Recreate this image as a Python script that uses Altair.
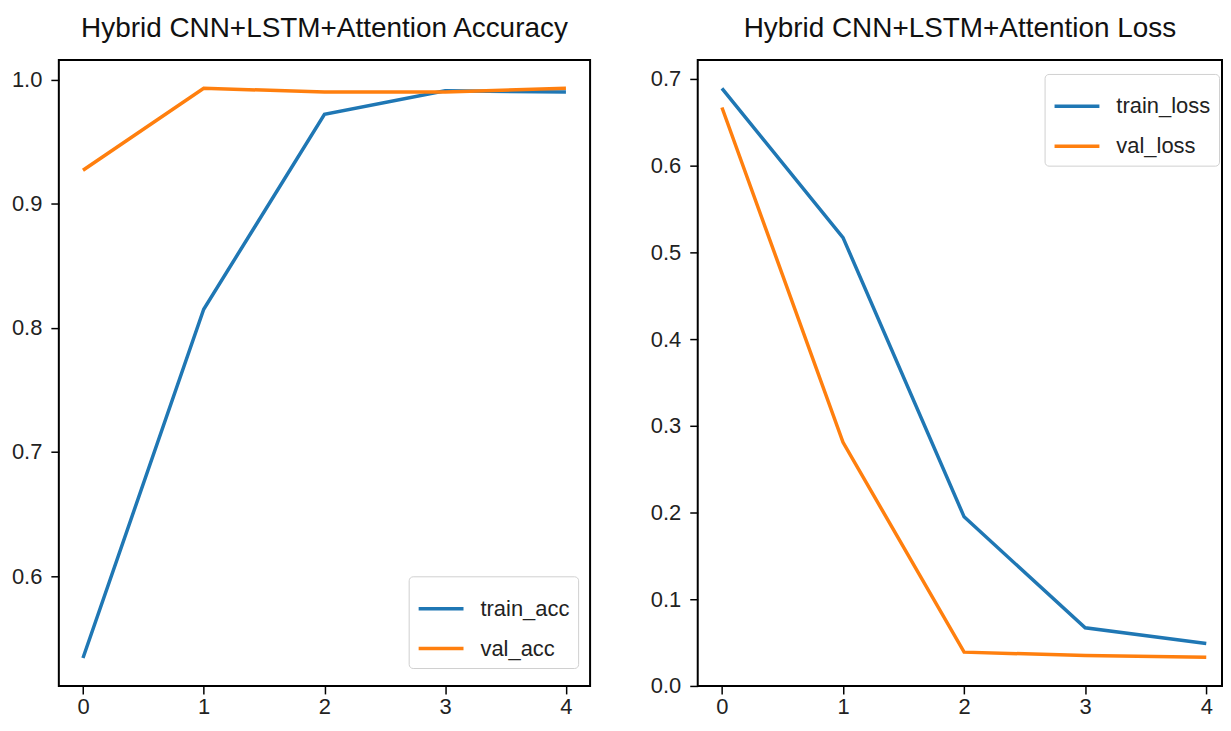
import altair as alt
import pandas as pd

epochs = [0, 1, 2, 3, 4]
train_acc = [0.534, 0.815, 0.972, 0.991, 0.990]
val_acc = [0.927, 0.993, 0.990, 0.990, 0.993]
train_loss = [0.689, 0.517, 0.195, 0.067, 0.049]
val_loss = [0.667, 0.281, 0.039, 0.035, 0.033]

acc_ticks = [0.6, 0.7, 0.8, 0.9, 1.0]
loss_ticks = [0.0, 0.1, 0.2, 0.3, 0.4, 0.5, 0.6, 0.7]

FONT = "Liberation Sans"
BLUE = "#1f77b4"
ORANGE = "#ff7f0e"

acc_df = pd.DataFrame({
    "epoch": epochs * 2,
    "value": train_acc + val_acc,
    "series": ["train_acc"] * 5 + ["val_acc"] * 5,
})
loss_df = pd.DataFrame({
    "epoch": epochs * 2,
    "value": train_loss + val_loss,
    "series": ["train_loss"] * 5 + ["val_loss"] * 5,
})


def panel(df, names, xdomain, ydomain, yticks, title, lx, ly, width):
    x = alt.X("epoch:Q", scale=alt.Scale(domain=xdomain, nice=False, zero=False),
              axis=alt.Axis(values=epochs, format="d", title=None, grid=False, domain=False,
                            tickSize=8, tickWidth=1.5, tickColor="black",
                            labelFontSize=22, labelFont=FONT, labelColor="#222",
                            labelPadding=3))
    y = alt.Y("value:Q", scale=alt.Scale(domain=ydomain, nice=False, zero=False),
              axis=alt.Axis(values=yticks, format=".1f", title=None, grid=False, domain=False,
                            tickSize=8, tickWidth=1.5, tickColor="black",
                            labelFontSize=22, labelFont=FONT, labelColor="#222",
                            labelPadding=9, minExtent=50, maxExtent=50))
    color = alt.Color("series:N",
                      scale=alt.Scale(domain=names, range=[BLUE, ORANGE]),
                      legend=alt.Legend(orient="none", legendX=lx, legendY=ly, title=None,
                                        symbolType="stroke", symbolSize=2025,
                                        symbolStrokeWidth=3.5, labelFontSize=22,
                                        labelFont=FONT, labelColor="#222",
                                        padding=8, rowPadding=4, labelOffset=15,
                                        strokeColor="#d0d0d0", cornerRadius=4,
                                        fillColor="white"))
    return alt.Chart(df).mark_line(strokeWidth=3.5, clip=True).encode(
        x=x, y=y, color=color,
        order="epoch:Q",
    ).properties(
        width=width, height=628,
        title=alt.TitleParams(title, fontSize=28, font=FONT, fontWeight="normal",
                              color="#111", anchor="middle", offset=17),
    )


left = panel(acc_df, ["train_acc", "val_acc"], [-0.2, 4.2], [0.5115, 1.0158], acc_ticks,
             "Hybrid CNN+LSTM+Attention Accuracy", 351, 518, 533)
right = panel(loss_df, ["train_loss", "val_loss"], [-0.2, 4.13], [0.0, 0.7218], loss_ticks,
              "Hybrid CNN+LSTM+Attention Loss", 348, 14, 526)

chart = alt.hconcat(left, right, spacing=56).resolve_scale(color="independent").properties(
    padding={"left": 0, "top": 5, "right": 0, "bottom": 0}
).configure(background="white").configure_view(stroke="black", strokeWidth=2)

chart.save("out.html", embed_options={"renderer": "svg", "actions": False})
